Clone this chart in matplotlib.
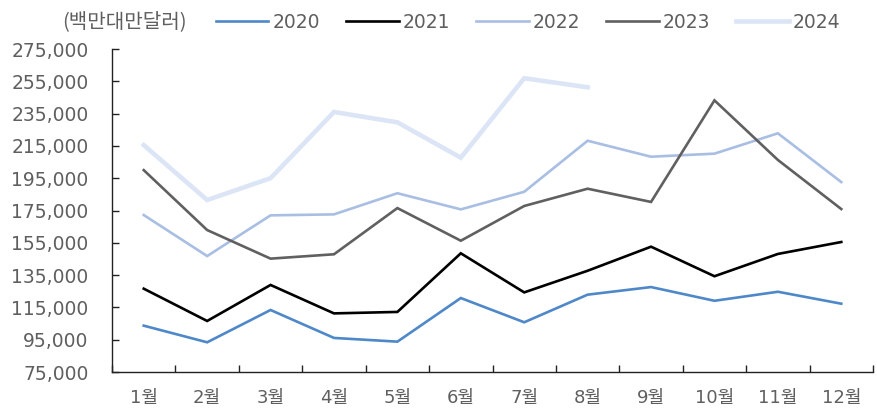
import matplotlib
matplotlib.use("Agg")
import matplotlib.pyplot as plt
from matplotlib.ticker import FuncFormatter, FixedLocator

plt.rcParams['font.family'] = ['DejaVu Sans', 'Noto Sans CJK KR']

months = ["1월", "2월", "3월", "4월", "5월", "6월", "7월", "8월", "9월", "10월", "11월", "12월"]
years = ["2020", "2021", "2022", "2023", "2024"]

v2020 = [103700, 93400, 113400, 96100, 93800, 120800, 105800, 122900, 127600, 119100, 124700, 117300]
v2021 = [126600, 106600, 128900, 111300, 112200, 148500, 124300, 137700, 152600, 134300, 148100, 155500]
v2022 = [172200, 146800, 172000, 172600, 185700, 175700, 186600, 218200, 208300, 210200, 222800, 192600]
v2023 = [200000, 162900, 145200, 147900, 176500, 156300, 177800, 188500, 180300, 243200, 206300, 175900]
v2024 = [215500, 181500, 195000, 236000, 229600, 207700, 256900, 251300]

series = [v2020, v2021, v2022, v2023, v2024]
colors = ["#4f88c9", "#000000", "#a9bee3", "#606060", "#dce5f5"]
widths = [1.9, 1.9, 1.9, 1.9, 3.3]
txt_color = "#5f5f5f"

fig = plt.figure(figsize=(8.78, 4.08), dpi=100)
ax = fig.add_axes([0.1276, 0.0882, 0.8667, 0.7917])

handles = []
for name, vals, c, w in zip(years, series, colors, widths):
    h, = ax.plot(range(len(vals)), vals, color=c, lw=w, label=name, solid_joinstyle="miter")
    handles.append(h)

ax.set_xlim(-0.5, 11.5)
ax.set_ylim(75000, 275000)
ax.yaxis.set_major_locator(FixedLocator(range(75000, 275001, 20000)))
ax.yaxis.set_major_formatter(FuncFormatter(lambda v, p: f"{int(v):,}"))
ax.set_xticks(range(12))
ax.set_xticklabels(months)
ax.set_xticks([i + 0.5 for i in range(-1, 12)], minor=True)

ax.tick_params(axis="x", which="major", length=0, pad=12, labelsize=13, labelcolor=txt_color)
ax.tick_params(axis="x", which="minor", direction="in", length=5, width=1, color="#222222")
ax.tick_params(axis="y", direction="in", length=5, width=1, color="#222222", pad=17,
               labelsize=13.5, labelcolor=txt_color)

for s in ["top", "right"]:
    ax.spines[s].set_visible(False)
for s in ["left", "bottom"]:
    ax.spines[s].set_color("#222222")
    ax.spines[s].set_linewidth(1)

fig.text(62 / 878, 1 - 22 / 408, "(백만대만달러)", fontsize=14.5, color=txt_color,
         va="center", ha="left", family=['Noto Sans CJK KR', 'DejaVu Sans'])
leg = fig.legend(handles=handles, loc="center left", bbox_to_anchor=(216 / 878, 1 - 22 / 408),
                 ncol=5, frameon=False, fontsize=13.5, handlelength=2.8, handletextpad=0.2,
                 columnspacing=1.4, borderaxespad=0, borderpad=0)
for t in leg.get_texts():
    t.set_color(txt_color)

fig.savefig("out.png", dpi=100)
